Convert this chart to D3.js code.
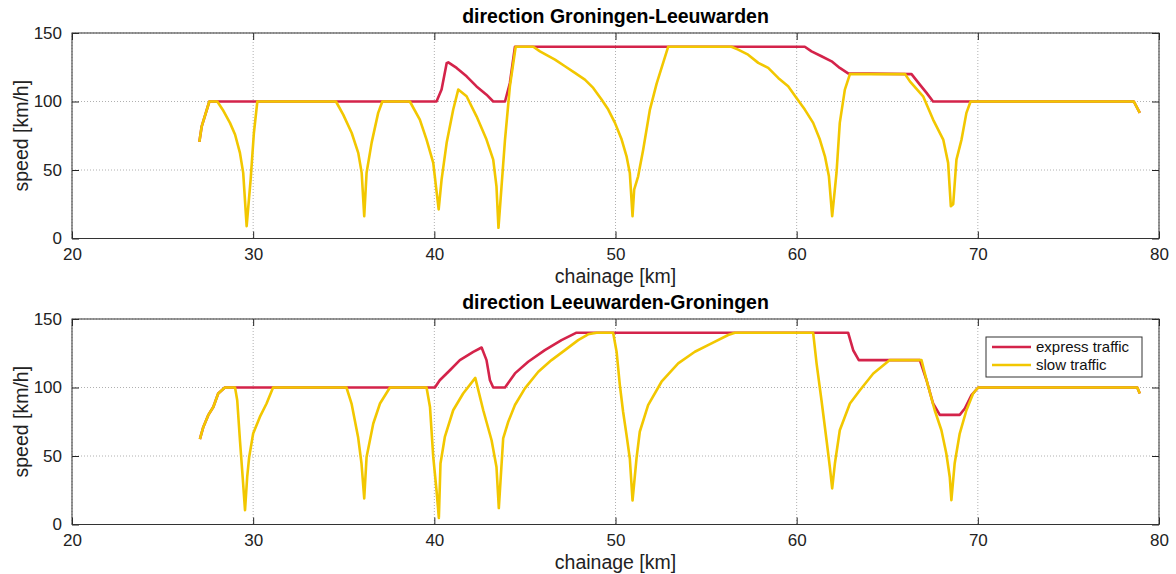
<!DOCTYPE html>
<html>
<head>
<meta charset="utf-8">
<script src="https://cdn.jsdelivr.net/npm/d3@7"></script>
<style>
  body { margin: 0; background: #fff; }
  svg { font-family: "Liberation Sans", Arial, Helvetica, sans-serif; }
</style>
</head>
<body>
<div id="wrapper"></div>
<script>
// [chainage km, speed km/h]
const glExpress = [[27.03,70.5],[27.16,81.9],[27.58,100],[40.12,100],[40.4,108.7],[40.68,128],[40.77,128.6],[41.23,124.5],[41.78,118.4],[42.33,111],[42.88,105],[43.25,100],[43.9,100],[44.17,113.5],[44.45,140],[60.45,140],[60.82,136.6],[61.37,133],[61.93,129.3],[62.38,124.5],[62.84,120.5],[66.34,120],[66.8,112.3],[67.17,106.3],[67.53,100],[78.61,100],[78.94,91.7]];
const glSlow = [[27.03,70.5],[27.16,81.9],[27.58,100],[28.02,100],[28.32,94],[28.72,84.4],[29.0,75.9],[29.27,62.5],[29.45,47.9],[29.64,9],[29.86,43],[30.04,77],[30.23,100],[34.57,100],[34.97,90.4],[35.44,77],[35.8,62.5],[35.99,47.9],[36.13,16.3],[36.26,48],[36.54,70],[36.9,91.7],[37.13,100],[38.65,100],[39.2,86.8],[39.57,72.2],[39.94,55.2],[40.09,38],[40.24,21.2],[40.4,43],[40.68,69.8],[41.04,94],[41.32,108.7],[41.78,103.8],[42.33,89.2],[42.88,72.2],[43.25,57.6],[43.43,38],[43.54,7.8],[43.71,38],[43.9,72],[44.17,111],[44.49,140],[45.46,140],[45.83,136.6],[46.66,130.6],[47.21,125.7],[47.76,120.9],[48.31,116],[48.77,109.9],[49.23,101.4],[49.6,94.1],[49.97,84.4],[50.34,72.2],[50.61,60],[50.79,47.9],[50.94,16.3],[51.03,35.7],[51.25,45.4],[51.53,65],[51.9,94.1],[52.27,113],[52.91,140],[56.4,140],[56.77,137.9],[57.32,134.2],[57.88,128.2],[58.43,124.5],[58.98,117.2],[59.53,111.1],[59.99,102.6],[60.45,94.1],[60.91,84.4],[61.28,72.2],[61.56,60],[61.78,45.4],[61.96,16.3],[62.2,48],[62.38,84.4],[62.66,108.7],[62.94,120],[65.98,120],[66.25,114.7],[66.98,103.8],[67.53,86.8],[68.09,72.2],[68.36,55.2],[68.51,23.6],[68.64,25],[68.82,57.6],[69.1,72.2],[69.37,91.7],[69.6,100],[78.61,100],[78.94,91.7]];
const lgExpress = [[27.06,62.3],[27.25,71.2],[27.52,79.8],[27.8,85.8],[28.07,95.6],[28.44,100],[40.03,100],[40.3,105.3],[40.86,112.6],[41.41,120],[42.15,126],[42.61,129.2],[42.88,120],[43.07,105.3],[43.25,100],[43.9,100],[44.45,110.3],[45.18,118.8],[46.1,127.3],[47.02,134.6],[47.85,140],[62.84,140],[63.12,127.2],[63.43,120],[66.8,120],[67.17,105.3],[67.53,88.3],[67.9,80],[69.0,80],[69.28,84.7],[69.65,94.4],[70.02,100],[78.8,100],[78.94,95.6]];
const lgSlow = [[27.06,62.3],[27.25,71.2],[27.52,79.8],[27.8,85.8],[28.07,95.6],[28.44,100],[29.0,100],[29.12,90.7],[29.27,61.5],[29.42,34.7],[29.55,10.4],[29.67,34.7],[29.78,49.3],[30.0,66.4],[30.37,78.5],[30.74,88.3],[31.1,100],[35.15,100],[35.43,88.3],[35.79,63.9],[35.98,44.5],[36.13,19],[36.26,49.3],[36.63,73.7],[37.0,88.3],[37.55,100],[39.57,100],[39.76,85.8],[39.94,49.3],[40.12,25],[40.25,4.8],[40.34,44.5],[40.58,63.9],[41.04,83.4],[41.59,95.6],[42.26,107],[42.7,83.4],[43.16,61.5],[43.43,42],[43.56,12],[43.8,62.8],[44.08,75],[44.45,87.2],[45.0,99.4],[45.74,111.5],[46.47,120],[47.21,127.3],[47.94,134.6],[48.49,138.8],[48.96,140],[49.87,140],[50.06,126.1],[50.24,101.8],[50.42,82.3],[50.61,65.2],[50.79,48.2],[50.94,17.5],[51.16,48.2],[51.34,67.7],[51.8,87.2],[52.54,104.2],[53.46,117.6],[54.38,126.1],[55.3,132.2],[56.22,138.3],[56.59,140],[60.91,140],[61.1,117.5],[61.37,90.7],[61.65,61.5],[61.83,42],[61.96,26.3],[62.11,44.5],[62.38,68.8],[62.94,88.3],[63.49,98],[64.23,110.2],[65.14,120],[66.89,120],[67.17,105.3],[67.62,83.4],[67.99,68.8],[68.26,51.8],[68.45,34.7],[68.54,17.7],[68.72,44.5],[69.0,66.4],[69.37,83.4],[69.74,95.6],[70.02,100],[78.8,100],[78.94,95.6]];

const xTicks = [20, 30, 40, 50, 60, 70, 80];
const yTicks = [0, 50, 100, 150];
const seriesNames = ["express traffic", "slow traffic"];
const colors = ["#d4234a", "#f2c700"];

const width = 1176, height = 574;
const svg = d3.select("#wrapper").append("svg")
  .attr("width", width)
  .attr("height", height);

const panels = [
  { title: "direction Groningen-Leeuwarden", top: 33, express: glExpress, slow: glSlow, legend: false },
  { title: "direction Leeuwarden-Groningen", top: 319, express: lgExpress, slow: lgSlow, legend: true },
];

const left = 72, right = 1159, plotH = 205.5;

const xScale = d3.scaleLinear().domain([20, 80]).range([left, right]);

panels.forEach(p => {
  const yScale = d3.scaleLinear().domain([0, 150]).range([p.top + plotH, p.top]);
  const g = svg.append("g");

  // grid
  g.selectAll(".gx").data(xTicks).join("line")
    .attr("x1", d => xScale(d)).attr("x2", d => xScale(d))
    .attr("y1", p.top).attr("y2", p.top + plotH)
    .attr("stroke", "#b0b0b0").attr("stroke-width", 1).attr("stroke-dasharray", "1,2");
  g.selectAll(".gy").data(yTicks).join("line")
    .attr("x1", left).attr("x2", right)
    .attr("y1", d => yScale(d)).attr("y2", d => yScale(d))
    .attr("stroke", "#b0b0b0").attr("stroke-width", 1).attr("stroke-dasharray", "1,2");

  // axes (inward ticks like matlab)
  const xb = g.append("g").attr("transform", `translate(0,${p.top + plotH})`)
    .call(d3.axisBottom(xScale).tickValues(xTicks).tickSizeInner(-7).tickSizeOuter(0).tickPadding(9));
  const xt = g.append("g").attr("transform", `translate(0,${p.top})`)
    .call(d3.axisTop(xScale).tickValues(xTicks).tickSizeInner(-7).tickSizeOuter(0).tickFormat(""));
  const yl = g.append("g").attr("transform", `translate(${left},0)`)
    .call(d3.axisLeft(yScale).tickValues(yTicks).tickSizeInner(-7).tickSizeOuter(0).tickPadding(10));
  const yr = g.append("g").attr("transform", `translate(${right},0)`)
    .call(d3.axisRight(yScale).tickValues(yTicks).tickSizeInner(-7).tickSizeOuter(0).tickFormat(""));
  [xb, xt, yl, yr].forEach(a => {
    a.select(".domain").remove();
    a.selectAll("line").attr("stroke", "#222");
    a.selectAll("text").attr("font-size", 17).attr("fill", "#222")
      .style("font-family", '"Liberation Sans", Arial, sans-serif');
  });

  g.append("rect")
    .attr("x", left).attr("y", p.top)
    .attr("width", right - left).attr("height", plotH)
    .attr("fill", "none").attr("stroke", "#333").attr("stroke-width", 1);

  const line = d3.line().x(d => xScale(d[0])).y(d => yScale(d[1]));
  [p.express, p.slow].forEach((s, i) => {
    g.append("path").attr("d", line(s))
      .attr("fill", "none").attr("stroke", colors[i])
      .attr("stroke-width", 2.6).attr("stroke-linejoin", "round");
  });

  // labels
  g.append("text").attr("x", (left + right) / 2).attr("y", p.top - 10)
    .attr("text-anchor", "middle").attr("font-size", 19.5).attr("font-weight", "bold")
    .attr("fill", "#000").text(p.title);
  g.append("text").attr("x", (left + right) / 2).attr("y", p.top + plotH + 44)
    .attr("text-anchor", "middle").attr("font-size", 19.5).attr("fill", "#222")
    .text("chainage [km]");
  g.append("text")
    .attr("transform", `translate(28,${p.top + plotH / 2}) rotate(-90)`)
    .attr("text-anchor", "middle").attr("font-size", 19.5).attr("fill", "#222")
    .text("speed [km/h]");

  if (p.legend) {
    const lg = g.append("g");
    lg.append("rect").attr("x", 986).attr("y", 337).attr("width", 156).attr("height", 40)
      .attr("fill", "#fff").attr("stroke", "#333").attr("stroke-width", 1);
    seriesNames.forEach((n, i) => {
      const yy = 347 + i * 18;
      lg.append("line").attr("x1", 992).attr("x2", 1031).attr("y1", yy).attr("y2", yy)
        .attr("stroke", colors[i]).attr("stroke-width", 2.6);
      lg.append("text").attr("x", 1036).attr("y", yy + 5).attr("font-size", 15)
        .attr("fill", "#111").text(n);
    });
  }
});
</script>
</body>
</html>
